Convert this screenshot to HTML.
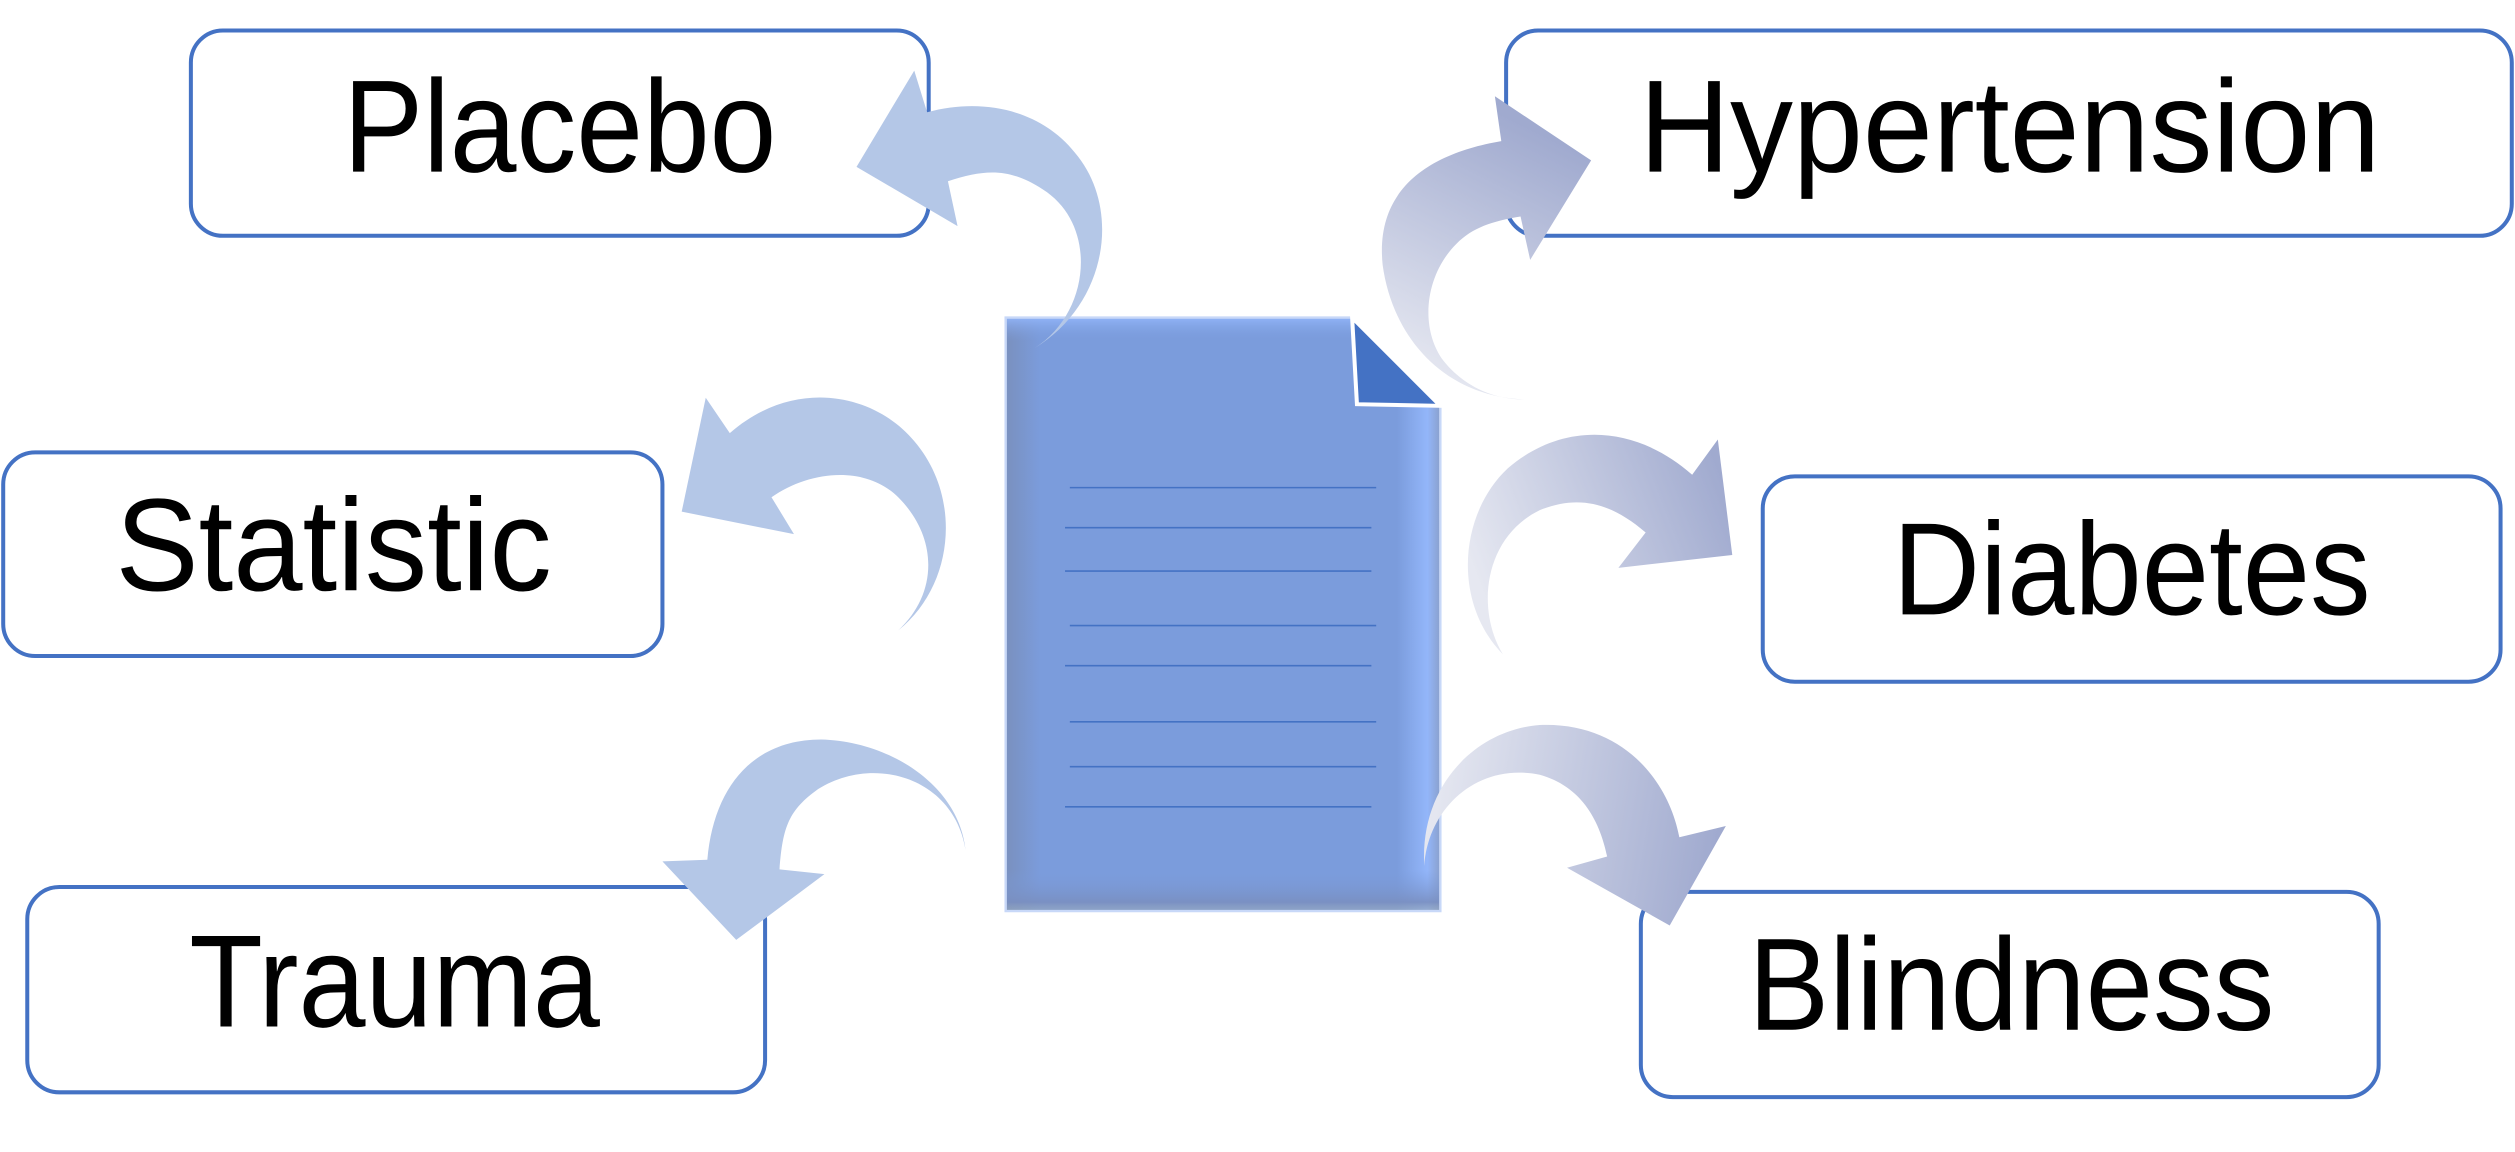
<!DOCTYPE html>
<html><head><meta charset="utf-8"><style>html,body{margin:0;padding:0;background:#fff;}svg{display:block}</style></head>
<body>
<svg width="2515" height="1152" viewBox="0 0 1568 718.2" xmlns="http://www.w3.org/2000/svg">
<defs>
<linearGradient id="gh" gradientUnits="userSpaceOnUse" x1="900" y1="240" x2="975" y2="90"><stop offset="0" stop-color="#e6e8f1"/><stop offset="1" stop-color="#a0aacf"/></linearGradient>
<linearGradient id="gd" gradientUnits="userSpaceOnUse" x1="920" y1="360" x2="1075" y2="300"><stop offset="0" stop-color="#e6e8f1"/><stop offset="1" stop-color="#a0aacf"/></linearGradient>
<linearGradient id="gb" gradientUnits="userSpaceOnUse" x1="890" y1="500" x2="1070" y2="530"><stop offset="0" stop-color="#e6e8f1"/><stop offset="1" stop-color="#a0aacf"/></linearGradient>
<linearGradient id="dl" x1="0" y1="0" x2="1" y2="0"><stop offset="0" stop-color="#7a90be"/><stop offset="0.08" stop-color="#7b9cdc"/><stop offset="0.9" stop-color="#7b9cdc"/><stop offset="0.97" stop-color="#93b6fa"/><stop offset="1" stop-color="#8aa0cc"/></linearGradient>
<linearGradient id="dv" x1="0" y1="0" x2="0" y2="1"><stop offset="0" stop-color="#93b6fa" stop-opacity="0.9"/><stop offset="0.04" stop-color="#7b9cdc" stop-opacity="0"/><stop offset="0.93" stop-color="#7b9cdc" stop-opacity="0"/><stop offset="0.985" stop-color="#7a8fc0" stop-opacity="0.9"/><stop offset="1" stop-color="#9ab" stop-opacity="0.6"/></linearGradient>
</defs>
<g fill="#fff" stroke="#4472c4" stroke-width="2.5">
<rect x="119" y="19" width="460" height="128" rx="20"/>
<rect x="2" y="282" width="411" height="127" rx="20"/>
<rect x="17" y="553" width="460" height="128" rx="20"/>
<rect x="939" y="19" width="627" height="128" rx="20"/>
<rect x="1099" y="297" width="460" height="128" rx="20"/>
<rect x="1023" y="556" width="460" height="128" rx="20"/>
</g>
<g font-family="Liberation Sans, sans-serif" font-size="82" fill="#000">
<text x="214" y="107" textLength="270" lengthAdjust="spacingAndGlyphs">Placebo</text>
<text x="72" y="368" textLength="272" lengthAdjust="spacingAndGlyphs">Statistic</text>
<text x="118" y="640" textLength="256" lengthAdjust="spacingAndGlyphs">Trauma</text>
<text x="1022" y="107" textLength="462" lengthAdjust="spacingAndGlyphs">Hypertension</text>
<text x="1180" y="383" textLength="298" lengthAdjust="spacingAndGlyphs">Diabetes</text>
<text x="1090" y="642" textLength="328" lengthAdjust="spacingAndGlyphs">Blindness</text>
</g>
<!-- document -->
<polygon points="627,198 843,198 898,253 898,568 627,568" fill="url(#dl)"/>
<polygon points="627,198 843,198 898,253 898,568 627,568" fill="url(#dv)"/>
<polygon points="627,198 843,198 898,253 898,568 627,568" fill="none" stroke="#c8d8f8" stroke-width="1.5"/>
<polygon points="843,198 898,253 846,252" fill="#4472c4" stroke="#fff" stroke-width="2.5"/>
<g stroke="#4472c4" stroke-width="1">
<line x1="667" y1="304" x2="858" y2="304"/>
<line x1="664" y1="329" x2="855" y2="329"/>
<line x1="664" y1="356" x2="855" y2="356"/>
<line x1="667" y1="390" x2="858" y2="390"/>
<line x1="664" y1="415" x2="855" y2="415"/>
<line x1="667" y1="450" x2="858" y2="450"/>
<line x1="667" y1="478" x2="858" y2="478"/>
<line x1="664" y1="503" x2="855" y2="503"/>
</g>
<!-- arrows -->
<g fill="#b4c7e7">
<path d="M645,217 C690,190 700,130 670,95 C650,70 615,60 578,70 L570,44 L534,104 L597,141 L591,113 C615,105 630,105 650,118 C685,140 680,195 645,217 Z"/>
<path d="M560,393 C595,365 600,310 570,275 C545,245 495,235 455,270 L440,248 L425,319 L495,333 L481,310 C505,293 540,290 560,310 C585,335 585,370 560,393 Z"/>
<path d="M602,530 C598,490 555,462 512,461 C470,461 445,490 441,536 L413,537 L459,586 L514,545 L486,542 C488,515 492,505 510,492 C545,470 595,485 602,530 Z"/>
</g>
<path fill="url(#gh)" d="M950,249 C900,247 868,210 862,165 C857,115 895,95 936,88 L932,60 L992,100 L954,162 L948,135 C930,138 918,142 908,152 C888,172 885,205 900,225 C912,240 930,249 950,249 Z"/>
<path fill="url(#gd)" d="M937,408 C905,375 910,320 940,292 C975,262 1020,265 1055,296 L1071,274 L1080,346 L1009,354 L1026,332 C1005,314 985,308 960,318 C925,335 920,380 937,408 Z"/>
<path fill="url(#gb)" d="M888,540 C885,490 920,455 960,452 C1010,450 1040,485 1047,522 L1076,515 L1041,577 L977,541 L1002,534 C997,510 985,490 960,483 C920,475 890,505 888,540 Z"/>
</svg>
</body></html>
